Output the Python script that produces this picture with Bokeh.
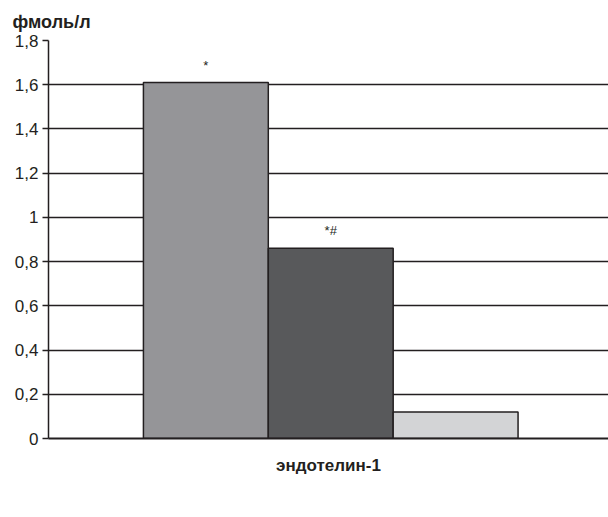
from bokeh.plotting import figure
from bokeh.models import ColumnDataSource, FixedTicker, CustomJSTickFormatter, Legend, LegendItem, Title
from bokeh.transform import dodge
from bokeh.core.properties import value
from bokeh.embed import file_html
from bokeh.resources import INLINE

category = ["эндотелин-1"]
groups = ["СД + ДД", "СД-ДД", "КГ"]
values = [1.61, 0.86, 0.12]
marks = ["*", "*#", ""]
colors = ["#959598", "#58595b", "#d3d4d6"]
y_ticks = [0, 0.2, 0.4, 0.6, 0.8, 1, 1.2, 1.4, 1.6, 1.8]
y_unit = "фмоль/л"

FONT = "Liberation Sans"

p = figure(x_range=category, y_range=(0, 1.8), frame_width=560, frame_height=398,
           output_backend="svg", toolbar_location=None,
           min_border_left=48, min_border_right=0, min_border_top=40,
           min_border_bottom=0)
p.outline_line_color = None

offsets = [-0.219, 0.004, 0.227]
bw = 0.223
items = []
for i in range(3):
    src = ColumnDataSource(dict(x=category, top=[values[i]], m=[marks[i]]))
    r = p.vbar(x=dodge("x", offsets[i], range=p.x_range), top="top", width=bw,
               source=src, fill_color=colors[i], line_color="#231f20", line_width=1.5)
    p.text(x=dodge("x", offsets[i], range=p.x_range), y="top", text="m", source=src,
           text_align="center", text_baseline="bottom", y_offset=-10,
           text_font=value(FONT), text_font_size="13px", text_color="#231f20")
    items.append(LegendItem(label=groups[i], renderers=[r]))

legend = Legend(items=items, orientation="horizontal", location="top_left",
                label_text_font=FONT, label_text_font_size="16px",
                label_text_color="#231f20", glyph_width=10, glyph_height=10,
                spacing=52, label_standoff=9, border_line_color=None,
                background_fill_alpha=0, padding=2, margin=8)
p.add_layout(legend, "below")

p.yaxis.ticker = FixedTicker(ticks=y_ticks)
p.yaxis.formatter = CustomJSTickFormatter(code="""
return tick.toFixed(1).replace('.0','').replace('.', ',');
""")
p.yaxis.major_label_text_font = FONT
p.yaxis.major_label_text_font_size = "17px"
p.yaxis.major_label_text_color = "#231f20"
p.yaxis.axis_line_color = "#231f20"
p.yaxis.axis_line_width = 1.5
p.yaxis.major_tick_line_color = "#231f20"
p.yaxis.major_tick_line_width = 1.5
p.yaxis.major_tick_out = 6
p.yaxis.major_tick_in = 0
p.yaxis.minor_tick_line_color = None
p.yaxis.major_label_standoff = 4

p.xaxis.major_label_text_font = FONT
p.xaxis.major_label_text_font_style = "bold"
p.xaxis.major_label_text_font_size = "17px"
p.xaxis.major_label_text_color = "#231f20"
p.xaxis.major_label_standoff = 17
p.xaxis.axis_line_color = "#231f20"
p.xaxis.axis_line_width = 2
p.xaxis.major_tick_line_color = None
p.xaxis.major_tick_out = 0
p.xaxis.major_tick_in = 0

p.xgrid.grid_line_color = None
p.ygrid.grid_line_color = "#231f20"
p.ygrid.grid_line_width = 1.5

p.title = Title(text=y_unit, align="left", offset=-36, standoff=17, text_font=FONT,
                text_font_style="bold", text_font_size="18px", text_color="#231f20")

open("out.html", "w").write(file_html(p, INLINE))
